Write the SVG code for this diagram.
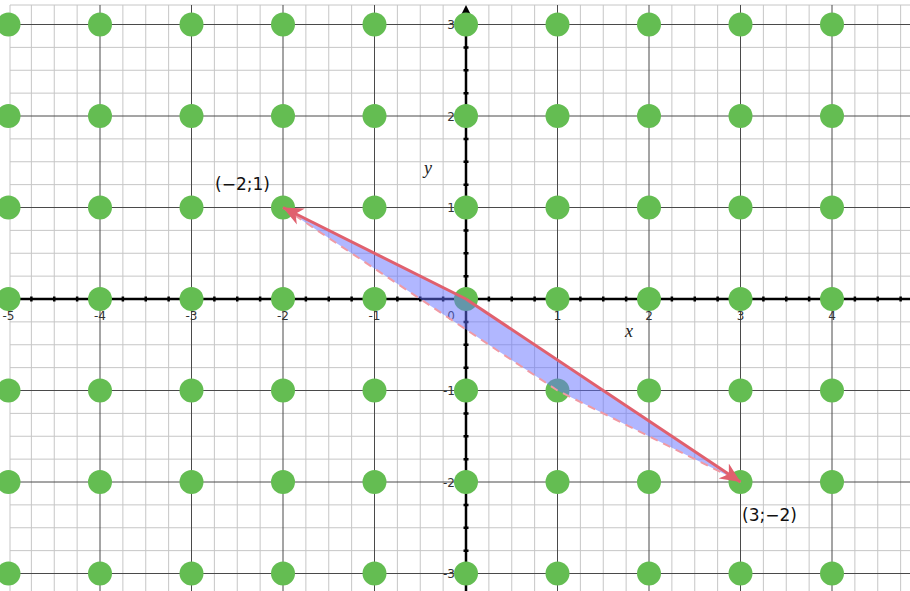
<svg xmlns="http://www.w3.org/2000/svg" width="910" height="591" viewBox="0 0 910 591">
<style>
.minor{stroke:#c6c6c6;stroke-width:1;fill:none}
.major{stroke:#4a4a4a;stroke-width:1;fill:none}
.axis{stroke:#000;stroke-width:2.5;fill:none}
.tick{stroke:#000;stroke-width:2.5;fill:none}
.tl{font-family:"DejaVu Sans","Liberation Sans",sans-serif;font-size:12px;fill:#333}
.al{font-family:"Liberation Serif",serif;font-style:italic;font-size:18px;fill:#222}
.pl{font-family:"DejaVu Sans","Liberation Sans",sans-serif;font-size:17px;fill:#111}
.vec{stroke:#e0606e;stroke-width:3;fill:none}
.dash{stroke:#f09aa4;stroke-width:2;stroke-dasharray:8 6;fill:none}
</style>
<defs>
<marker id="ah" markerUnits="userSpaceOnUse" markerWidth="22" markerHeight="20" refX="20" refY="10" orient="auto" viewBox="0 0 22 20">
<path d="M20,10 L0,1 L6,10 L0,19 Z" fill="#e0606e"/>
</marker>
</defs>
<rect width="910" height="591" fill="#fff"/>
<g id="grid">
<path class="minor" d="M31.375 5V591M54.25 5V591M77.125 5V591M122.875 5V591M145.75 5V591M168.625 5V591M214.375 5V591M237.25 5V591M260.125 5V591M305.875 5V591M328.75 5V591M351.625 5V591M397.375 5V591M420.25 5V591M443.125 5V591M488.875 5V591M511.75 5V591M534.625 5V591M580.375 5V591M603.25 5V591M626.125 5V591M671.875 5V591M694.75 5V591M717.625 5V591M763.375 5V591M786.25 5V591M809.125 5V591M854.875 5V591M877.75 5V591M900.625 5V591"/>
<path class="minor" d="M10 47.375H910M10 70.25H910M10 93.125H910M10 138.875H910M10 161.75H910M10 184.625H910M10 230.375H910M10 253.25H910M10 276.125H910M10 321.875H910M10 344.75H910M10 367.625H910M10 413.375H910M10 436.25H910M10 459.125H910M10 504.875H910M10 527.75H910M10 550.625H910"/>
<path class="minor" d="M10 5H910M10 5V591"/>
<path class="major" d="M100 5V591M191.5 5V591M283 5V591M374.5 5V591M557.5 5V591M649 5V591M740.5 5V591M832 5V591"/>
<path class="major" d="M10 24.5H910M10 116H910M10 207.5H910M10 390.5H910M10 482H910M10 573.5H910"/>
</g>
<g id="axes">
<path class="axis" d="M10 299H910M466 591V12"/>
<path d="M466 5L461.5 14H470.5Z" fill="#000"/>
<path class="tick" d="M31.375 296.5v5M54.25 296.5v5M77.125 296.5v5M122.875 296.5v5M145.75 296.5v5M168.625 296.5v5M214.375 296.5v5M237.25 296.5v5M260.125 296.5v5M305.875 296.5v5M328.75 296.5v5M351.625 296.5v5M397.375 296.5v5M420.25 296.5v5M443.125 296.5v5M488.875 296.5v5M511.75 296.5v5M534.625 296.5v5M580.375 296.5v5M603.25 296.5v5M626.125 296.5v5M671.875 296.5v5M694.75 296.5v5M717.625 296.5v5M763.375 296.5v5M786.25 296.5v5M809.125 296.5v5M854.875 296.5v5M877.75 296.5v5M900.625 296.5v5"/>
<path class="tick" d="M463.5 47.375h5M463.5 70.25h5M463.5 93.125h5M463.5 138.875h5M463.5 161.75h5M463.5 184.625h5M463.5 230.375h5M463.5 253.25h5M463.5 276.125h5M463.5 321.875h5M463.5 344.75h5M463.5 367.625h5M463.5 413.375h5M463.5 436.25h5M463.5 459.125h5M463.5 504.875h5M463.5 527.75h5M463.5 550.625h5"/>
</g>
<g id="tick-labels">
<text class="tl" x="8.5" y="320" text-anchor="middle">-5</text>
<text class="tl" x="100" y="320" text-anchor="middle">-4</text>
<text class="tl" x="191.5" y="320" text-anchor="middle">-3</text>
<text class="tl" x="283" y="320" text-anchor="middle">-2</text>
<text class="tl" x="374.5" y="320" text-anchor="middle">-1</text>
<text class="tl" x="557.5" y="320" text-anchor="middle">1</text>
<text class="tl" x="649" y="320" text-anchor="middle">2</text>
<text class="tl" x="740.5" y="320" text-anchor="middle">3</text>
<text class="tl" x="832" y="320" text-anchor="middle">4</text>
<text class="tl" x="455" y="29" text-anchor="end">3</text>
<text class="tl" x="455" y="120.5" text-anchor="end">2</text>
<text class="tl" x="455" y="212" text-anchor="end">1</text>
<text class="tl" x="455" y="395" text-anchor="end">-1</text>
<text class="tl" x="455" y="486.5" text-anchor="end">-2</text>
<text class="tl" x="455" y="578" text-anchor="end">-3</text>
<text class="tl" x="455" y="320" text-anchor="end">0</text>
</g>
<g id="axis-labels">
<text class="al" x="625" y="337">x</text>
<text class="al" x="424" y="174">y</text>
</g>
<g id="points">
<g fill="#64bd52">
<circle cx="8.5" cy="24.5" r="12"/><circle cx="100" cy="24.5" r="12"/><circle cx="191.5" cy="24.5" r="12"/><circle cx="283" cy="24.5" r="12"/><circle cx="374.5" cy="24.5" r="12"/><circle cx="466" cy="24.5" r="12"/><circle cx="557.5" cy="24.5" r="12"/><circle cx="649" cy="24.5" r="12"/><circle cx="740.5" cy="24.5" r="12"/><circle cx="832" cy="24.5" r="12"/>
<circle cx="8.5" cy="116" r="12"/><circle cx="100" cy="116" r="12"/><circle cx="191.5" cy="116" r="12"/><circle cx="283" cy="116" r="12"/><circle cx="374.5" cy="116" r="12"/><circle cx="466" cy="116" r="12"/><circle cx="557.5" cy="116" r="12"/><circle cx="649" cy="116" r="12"/><circle cx="740.5" cy="116" r="12"/><circle cx="832" cy="116" r="12"/>
<circle cx="8.5" cy="207.5" r="12"/><circle cx="100" cy="207.5" r="12"/><circle cx="191.5" cy="207.5" r="12"/><circle cx="283" cy="207.5" r="12"/><circle cx="374.5" cy="207.5" r="12"/><circle cx="466" cy="207.5" r="12"/><circle cx="557.5" cy="207.5" r="12"/><circle cx="649" cy="207.5" r="12"/><circle cx="740.5" cy="207.5" r="12"/><circle cx="832" cy="207.5" r="12"/>
<circle cx="8.5" cy="299" r="12"/><circle cx="100" cy="299" r="12"/><circle cx="191.5" cy="299" r="12"/><circle cx="283" cy="299" r="12"/><circle cx="374.5" cy="299" r="12"/><circle cx="466" cy="299" r="12"/><circle cx="557.5" cy="299" r="12"/><circle cx="649" cy="299" r="12"/><circle cx="740.5" cy="299" r="12"/><circle cx="832" cy="299" r="12"/>
<circle cx="8.5" cy="390.5" r="12"/><circle cx="100" cy="390.5" r="12"/><circle cx="191.5" cy="390.5" r="12"/><circle cx="283" cy="390.5" r="12"/><circle cx="374.5" cy="390.5" r="12"/><circle cx="466" cy="390.5" r="12"/><circle cx="557.5" cy="390.5" r="12"/><circle cx="649" cy="390.5" r="12"/><circle cx="740.5" cy="390.5" r="12"/><circle cx="832" cy="390.5" r="12"/>
<circle cx="8.5" cy="482" r="12"/><circle cx="100" cy="482" r="12"/><circle cx="191.5" cy="482" r="12"/><circle cx="283" cy="482" r="12"/><circle cx="374.5" cy="482" r="12"/><circle cx="466" cy="482" r="12"/><circle cx="557.5" cy="482" r="12"/><circle cx="649" cy="482" r="12"/><circle cx="740.5" cy="482" r="12"/><circle cx="832" cy="482" r="12"/>
<circle cx="8.5" cy="573.5" r="12"/><circle cx="100" cy="573.5" r="12"/><circle cx="191.5" cy="573.5" r="12"/><circle cx="283" cy="573.5" r="12"/><circle cx="374.5" cy="573.5" r="12"/><circle cx="466" cy="573.5" r="12"/><circle cx="557.5" cy="573.5" r="12"/><circle cx="649" cy="573.5" r="12"/><circle cx="740.5" cy="573.5" r="12"/><circle cx="832" cy="573.5" r="12"/>
</g>
</g>
<g id="parallelogram">
<polygon points="283,207.5 466,299 740.5,482 557.5,390.5" fill="#6470ff" fill-opacity="0.5"/>
</g>
<g id="connectors">
<path class="dash" d="M283 207.5L557.5 390.5L740.5 482"/>
<line class="vec" x1="466" y1="299" x2="283" y2="207.5" marker-end="url(#ah)"/>
<line class="vec" x1="466" y1="299" x2="740.5" y2="482" marker-end="url(#ah)"/>
</g>
<g id="point-labels">
<text class="pl" x="215" y="190">(−2;1)</text>
<text class="pl" x="742" y="521">(3;−2)</text>
</g>
</svg>
